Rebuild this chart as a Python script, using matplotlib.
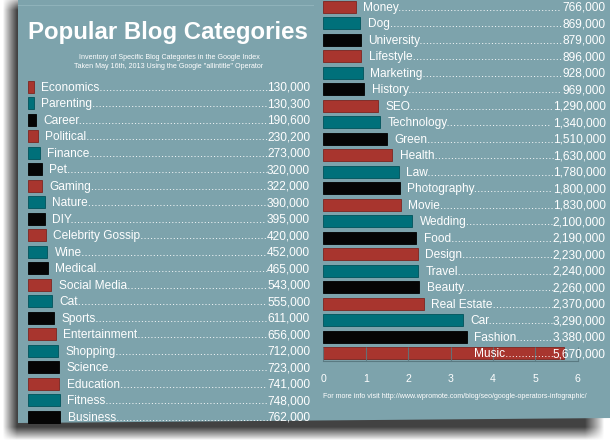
import numpy as np
import matplotlib
matplotlib.use('Agg')
import matplotlib.pyplot as plt
from matplotlib import font_manager
from matplotlib.patches import Polygon

# --- data (Google "allintitle" counts) ---
left_names = ['Economics', 'Parenting', 'Career', 'Political', 'Finance', 'Pet', 'Gaming',
              'Nature', 'DIY', 'Celebrity Gossip', 'Wine', 'Medical', 'Social Media', 'Cat',
              'Sports', 'Entertainment', 'Shopping', 'Science', 'Education', 'Fitness', 'Business']
left_values = [130000, 130300, 190600, 230200, 273000, 320000, 322000, 390000, 395000, 420000,
               452000, 465000, 543000, 555000, 611000, 656000, 712000, 723000, 741000, 748000, 762000]

right_names = ['Money', 'Dog', 'University', 'Lifestyle', 'Marketing', 'History', 'SEO',
               'Technology', 'Green', 'Health', 'Law', 'Photography', 'Movie', 'Wedding', 'Food',
               'Design', 'Travel', 'Beauty', 'Real Estate', 'Car', 'Fashion', 'Music']
right_values = [766000, 869000, 879000, 896000, 928000, 969000, 1290000, 1340000, 1510000,
                1630000, 1780000, 1800000, 1830000, 2100000, 2190000, 2230000, 2240000, 2260000,
                2370000, 3290000, 3380000, 5670000]

axis_ticks = [0, 1, 2, 3, 4, 5, 6]

title = 'Popular Blog Categories'
subtitle = ('Inventory of Specific Blog Categories in the Google Index\n'
            'Taken May 16th, 2013 Using the Google "allintitle" Operator')
footer = 'For more info visit http://www.wpromote.com/blog/seo/google-operators-infographic/'

palette = ['#a8352e', '#00707a', '#050505']
edges = ['#7d2520', '#00535b', '#000000']
panel_color = '#7da3ac'

W, H = 610, 440
PX_PER_M = 42.4
ROW = 16.5

FONT = 'Liberation Sans'
try:
    font_manager.findfont('Liberation Sans Narrow', fallback_to_default=False)
    NARROW = 'Liberation Sans Narrow'
except Exception:
    NARROW = None


def box(x0, y0, x1, y1):
    # pixel box (from top-left) -> figure fraction rect
    return [x0 / W, 1 - y1 / H, (x1 - x0) / W, (y1 - y0) / H]


fig = plt.figure(figsize=(W / 100, H / 100), dpi=100)
fig.patch.set_facecolor('white')

# background: drop shadow + panel
bg = fig.add_axes([0, 0, 1, 1])
bg.set_xlim(0, W)
bg.set_ylim(H, 0)
bg.axis('off')


def ramp(v, a, b):
    return np.clip((v - a) / (b - a), 0, 1)


xs = np.arange(W) + 0.5
ys = np.arange(H) + 0.5
sx = ramp(xs, 3, 17) * (1 - ramp(xs, 585, 604))
sy = ramp(ys, -4, 10) * (1 - ramp(ys, 427, 440))
alpha = (np.outer(sy, sx) ** 0.9) * 0.88
shadow = np.zeros((H, W, 4))
shadow[..., :3] = 0.16
shadow[..., 3] = alpha
bg.imshow(shadow, extent=(0, W, H, 0), interpolation='bilinear', zorder=0)
bg.add_patch(Polygon([(18, -3), (W + 3, -3), (W + 3, 418), (18, 423)],
                     closed=True, facecolor=panel_color, edgecolor='none', zorder=1))
bg.plot([18, 313], [5, 5], color='#8fb2ba', lw=0.8, zorder=2)

text_kw = dict(family=FONT, fontsize=8.6, color='white')


def draw_column(ax, names, values, offset, cap=None):
    n = len(names)
    y = np.arange(n)
    vals = np.array(values) / 1e6
    colors = [palette[(offset + i) % 3] for i in range(n)]
    ecs = [edges[(offset + i) % 3] for i in range(n)]
    ax.barh(y, vals, height=0.74, color=colors, edgecolor=ecs, linewidth=0.6, zorder=2)
    xmax = ax.get_xlim()[1]
    gap = 7.5 / PX_PER_M
    pairs = []
    for yi, v, name, raw in zip(y, vals, names, values):
        lx = v + gap
        if cap is not None:
            lx = min(lx, cap)
        t1 = ax.text(lx, yi + 0.26, name, ha='left', va='baseline', zorder=4, **text_kw)
        t2 = ax.text(xmax, yi + 0.26, f'{raw:,}', ha='right', va='baseline', zorder=4, **text_kw)
        pairs.append((t1, t2, name))
    return pairs


# left column
axL = fig.add_axes(box(28, 86.7 - ROW / 2, 310, 86.7 + 20.5 * ROW))
axL.set_xlim(0, 282 / PX_PER_M)
axL.set_ylim(len(left_names) - 0.5, -0.5)
axL.axis('off')
pairs = draw_column(axL, left_names, left_values, 0)

# right column
top_r = 6.7 - ROW / 2
axR = fig.add_axes(box(323.3, top_r, 605.7, top_r + len(right_names) * ROW))
axR.set_xlim(0, 282.4 / PX_PER_M)
nR = len(right_names)
axR.set_ylim(nR - 0.5, -0.5)
axR.set_facecolor('none')
for s in ['top', 'right', 'left']:
    axR.spines[s].set_visible(False)
axR.spines['bottom'].set_bounds(0, 6)
axR.spines['bottom'].set_color('#5a7a82')
axR.spines['bottom'].set_linewidth(0.8)
axR.set_yticks([])
axR.set_xticks(axis_ticks)
axR.set_xticklabels([str(t) for t in axis_ticks], family=FONT, fontsize=7.6, color='white')
axR.tick_params(axis='x', length=0, pad=9)
pairs += draw_column(axR, right_names, right_values, len(left_names),
                     cap=(474 - 323.3) / PX_PER_M)
axR.vlines(axis_ticks, nR - 1.38, nR - 0.5, color='#5a7a82', lw=0.8, alpha=0.85, zorder=3)

# titles
fig.text(168 / W, 1 - 39.3 / H, title, ha='center', va='baseline', family=FONT,
         weight='bold', fontsize=17.3, color='white')
sub_font = NARROW if NARROW else FONT
fig.text(169 / W, 1 - 67.5 / H, subtitle, ha='center', va='baseline', family=sub_font,
         fontsize=6.3 if NARROW else 5.1, color='white', linespacing=1.35)
fig.text(323 / W, 1 - 398 / H, footer, ha='left', va='baseline', family=sub_font,
         fontsize=6.4 if NARROW else 5.1, color='white')

# dotted leaders between label and value, running right up to the number
fig.canvas.draw()
renderer = fig.canvas.get_renderer()
probe = fig.text(0, 0, '.' * 40, **text_kw)
dot_w = probe.get_window_extent(renderer).width / 40
probe.remove()
for t1, t2, name in pairs:
    vb = t2.get_window_extent(renderer)
    lb = t1.get_window_extent(renderer)
    n = max(int(round((vb.x0 - lb.x1) / dot_w + 0.15)), 0)
    t1.set_text(name + '.' * n)
    lb = t1.get_window_extent(renderer)
    while lb.x1 > vb.x0 + 0.6 * dot_w and n > 0:
        n -= 1
        t1.set_text(name + '.' * n)
        lb = t1.get_window_extent(renderer)

fig.savefig('out.png', dpi=100)
plt.close(fig)
